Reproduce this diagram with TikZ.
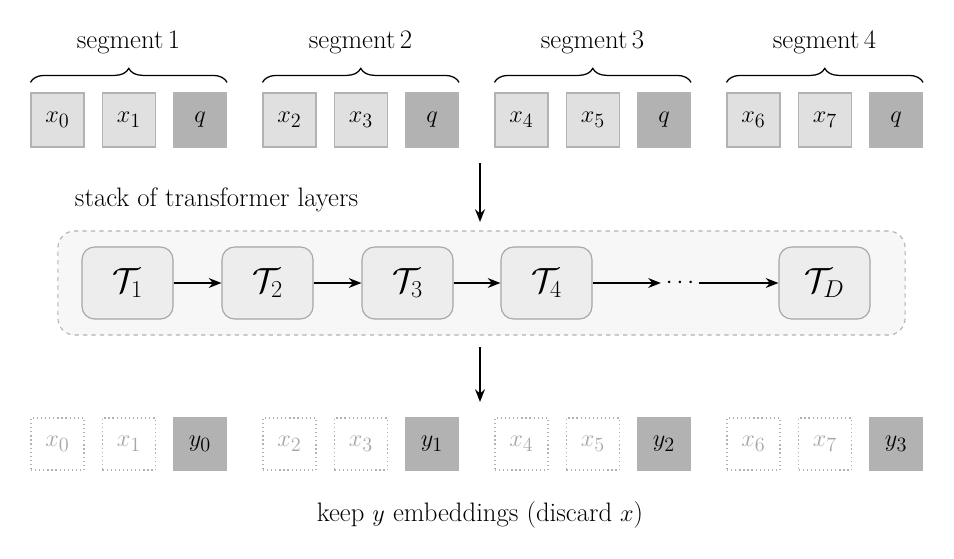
\documentclass[tikz,border=0pt]{standalone}
\usetikzlibrary{decorations.pathreplacing,arrows.meta,calc}
\begin{document}
\begin{tikzpicture}[x=0.025cm,y=-0.025cm,font=\fontsize{19}{23}\selectfont,
 tok/.style={draw=black!30,fill=black!12,line width=0.8pt,minimum width=1.325cm,minimum height=1.35cm,inner sep=0pt},
 qt/.style={tok,fill=black!30,draw=black!30},
 gh/.style={draw=black!30,dotted,line width=0.9pt,minimum width=1.325cm,minimum height=1.3cm,inner sep=0pt,text=black!35},
 yt/.style={qt,minimum height=1.3cm},
 lay/.style={draw=black!35,fill=black!7,rounded corners=9pt,line width=0.8pt,minimum width=2.275cm,minimum height=1.8cm,inner sep=0pt,font=\fontsize{24}{28}\selectfont},
 ar/.style={-{Stealth[length=9pt,width=7pt]},line width=1.2pt},
 br/.style={decorate,decoration={brace,amplitude=10pt},line width=0.9pt}]
\useasboundingbox (0,0) rectangle (954,559);
\foreach \s in {0,1,2,3}{
 \pgfmathtruncatemacro\a{2*\s}\pgfmathtruncatemacro\b{2*\s+1}\pgfmathtruncatemacro\n{\s+1}
 \node[tok] (a\s) at (57.5+232*\s,120) {$x_{\a}$};
 \node[tok] (b\s) at (129+232*\s,120) {$x_{\b}$};
 \node[qt] (q\s) at (200+232*\s,120) {$q$};
 \draw[br] ($(a\s.north west)+(0,-10)$) coordinate (l\s) -- ($(q\s.north east)+(0,-10)$) coordinate (r\s);
 \node (s\s) at (128.5+232*\s,42) {segment\,\n};
 \node[gh] (ga\s) at (57.5+232*\s,444) {$x_{\a}$};
 \node[gh] (gb\s) at (129+232*\s,444) {$x_{\b}$};
 \node[yt] (y\s) at (200+232*\s,444) {$y_{\s}$};
}
\node[draw=black!30,dashed,fill=black!3,rounded corners=12pt,line width=0.8pt,minimum width=21.175cm,minimum height=2.6cm] (box) at (481.5,283) {};
\node[lay] (t1) at (127.5,283) {$\mathcal{T}_1$};
\node[lay] (t2) at (267.5,283) {$\mathcal{T}_2$};
\node[lay] (t3) at (407.5,283) {$\mathcal{T}_3$};
\node[lay] (t4) at (546.5,283) {$\mathcal{T}_4$};
\node (dots) at (680,283) {$\cdots$};
\node[lay] (tD) at (824.5,283) {$\mathcal{T}_D$};
\draw[ar] (t1) -- (t2); \draw[ar] (t2) -- (t3); \draw[ar] (t3) -- (t4);
\draw[ar] (t4) -- (dots); \draw[ar] (dots) -- (tD);
\node[anchor=west] (lbl) at (70,200) {stack of transformer layers};
\coordinate (u1) at (480,163); \coordinate (u2) at (480,222);
\draw[ar] (u1) -- (u2);
\coordinate (d1) at (480,347); \coordinate (d2) at (480,402);
\draw[ar] (d1) -- (d2);
\node (keep) at (480,515) {keep $y$ embeddings (discard $x$)};
\end{tikzpicture}
\end{document}
